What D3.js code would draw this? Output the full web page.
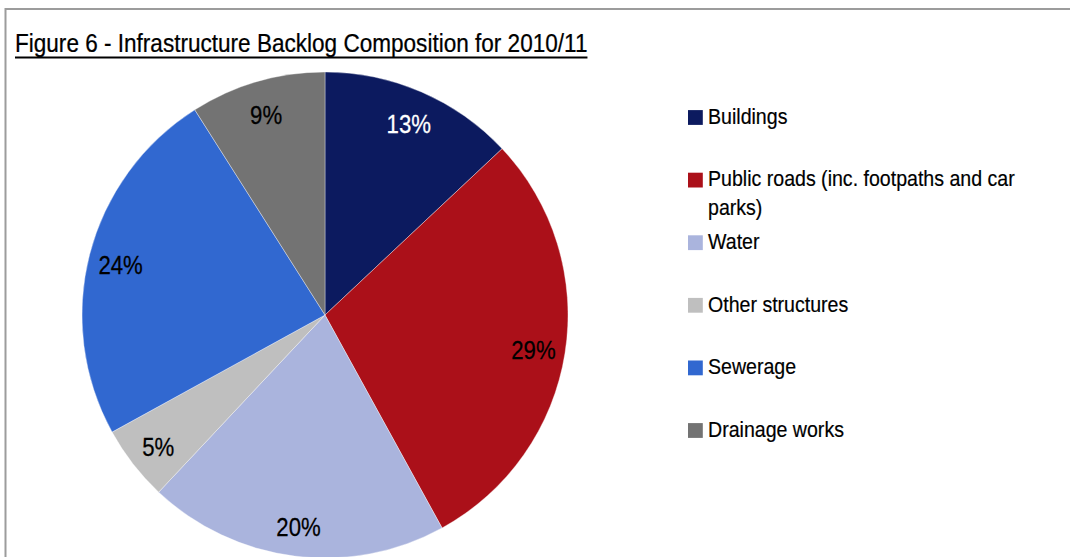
<!DOCTYPE html>
<html>
<head>
<meta charset="utf-8">
<script src="https://cdn.jsdelivr.net/npm/d3@7"></script>
<style>
  html, body { margin: 0; padding: 0; background: #ffffff; }
  svg { display: block; }
  text { font-family: "Liberation Sans", Arial, sans-serif; }
</style>
</head>
<body>
<svg id="chart" width="1070" height="557"></svg>
<script>
// Backlog shares by asset class, 2010/11 (per cent)
const categories = [
  "Buildings",
  "Public roads (inc. footpaths and car parks)",
  "Water",
  "Other structures",
  "Sewerage",
  "Drainage works"
];
const shares = [13, 29, 20, 5, 24, 9];
const sliceColors = ["#0c1a5f", "#ab1019", "#aab4dd", "#bfbfbf", "#3168d0", "#737373"];
const labelColors = ["#ffffff", "#000000", "#000000", "#000000", "#000000", "#000000"];
// Legend text broken into lines as it wraps in the legend box
const legendLines = [
  ["Buildings"],
  ["Public roads (inc. footpaths and car", "parks)"],
  ["Water"],
  ["Other structures"],
  ["Sewerage"],
  ["Drainage works"]
];
const titleText = "Figure 6 - Infrastructure Backlog Composition for 2010/11";

const svg = d3.select("#chart");
const condense = 0.87; // narrow typeface look

// outer frame (only top and left edges fall inside the view)
svg.append("rect")
  .attr("x", 5.5).attr("y", 9)
  .attr("width", 1200).attr("height", 700)
  .attr("fill", "none")
  .attr("stroke", "#9c9c9c")
  .attr("stroke-width", 2);

// title with underline
const titleSx = 0.885;
const title = svg.append("text")
  .attr("transform", `translate(15,52) scale(${titleSx},1)`)
  .attr("font-size", 25.5)
  .attr("fill", "#000")
  .attr("stroke", "#000").attr("stroke-width", 0.25)
  .text(titleText);
const titleW = title.node().getComputedTextLength() * titleSx;
svg.append("line")
  .attr("x1", 15).attr("x2", 15 + titleW)
  .attr("y1", 57.5).attr("y2", 57.5)
  .attr("stroke", "#000").attr("stroke-width", 2);

// pie
const cx = 325, cy = 315, R = 243;
const pie = d3.pie().sort(null).value(d => d)
  .startAngle(0).endAngle(2 * Math.PI);
const arcs = pie(shares);
const arc = d3.arc().innerRadius(0).outerRadius(R);
const labelArc = d3.arc().innerRadius(211).outerRadius(211);

const g = svg.append("g").attr("transform", `translate(${cx},${cy})`);
g.selectAll("path.slice")
  .data(arcs)
  .join("path")
  .attr("class", "slice")
  .attr("d", arc)
  .attr("fill", (d, i) => sliceColors[i])
  .attr("stroke", "rgba(255,255,255,0.6)")
  .attr("stroke-width", 0.6);

g.selectAll("text.pct")
  .data(arcs)
  .join("text")
  .attr("class", "pct")
  .attr("transform", d => {
    const [x, y] = labelArc.centroid(d);
    return `translate(${x},${y}) scale(${condense},1)`;
  })
  .attr("text-anchor", "middle")
  .attr("dy", "0.45em")
  .attr("font-size", 25.5)
  .attr("fill", (d, i) => labelColors[i])
  .attr("stroke", (d, i) => labelColors[i]).attr("stroke-width", 0.25)
  .text(d => d.value + "%");

// legend
const legendY = d3.scalePoint()
  .domain(categories)
  .range([117.5, 430.5]);

const leg = svg.append("g");
const item = leg.selectAll("g.item")
  .data(categories)
  .join("g")
  .attr("class", "item")
  .attr("transform", d => `translate(688,${legendY(d)})`);

item.append("rect")
  .attr("x", 0).attr("y", -7.4)
  .attr("width", 14.8).attr("height", 14.8)
  .attr("fill", (d, i) => sliceColors[i]);

item.each(function (d, i) {
  const t = d3.select(this);
  legendLines[i].forEach((line, k) => {
    t.append("text")
      .attr("transform", `translate(20,${6.3 + k * 28.3}) scale(0.89,1)`)
      .attr("font-size", 22)
      .attr("fill", "#000")
      .attr("stroke", "#000").attr("stroke-width", 0.2)
      .text(line);
  });
});
</script>
</body>
</html>
